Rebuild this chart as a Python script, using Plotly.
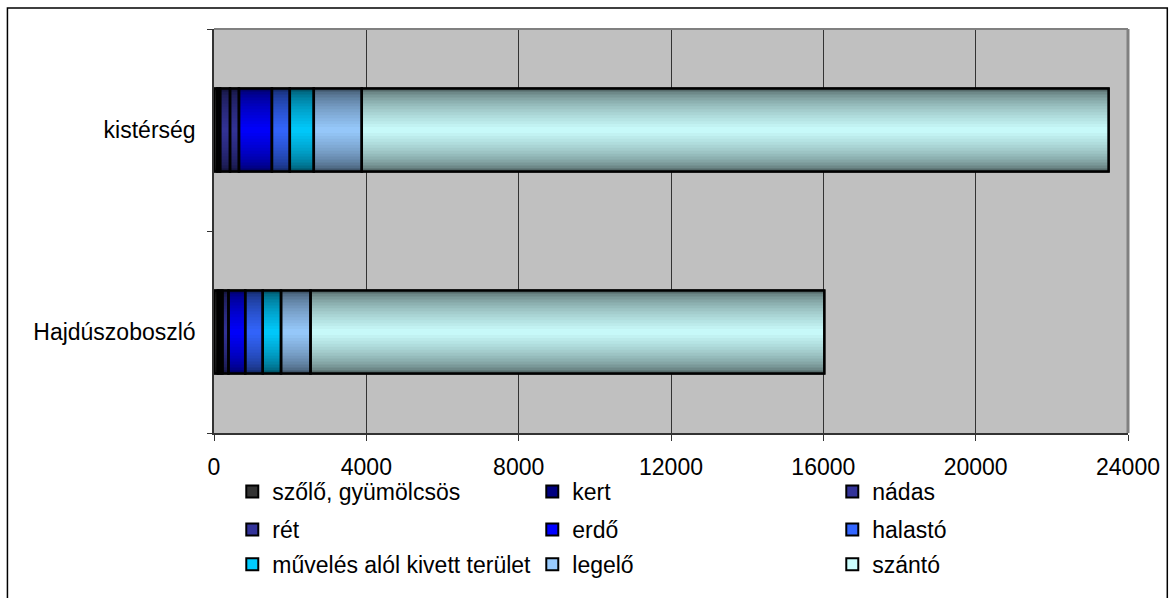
import plotly.graph_objects as go

categories = ["Hajdúszoboszló", "kistérség"]
series_names = ["szőlő, gyümölcsös", "kert", "nádas", "rét", "erdő", "halastó",
                "művelés alól kivett terület", "legelő", "szántó"]
hajduszoboszlo = [100, 70, 50, 160, 440, 460, 480, 775, 13490]
kisterseg = [90, 70, 260, 235, 865, 470, 630, 1260, 19610]
colors = ["#333333", "#000080", "#333399", "#333399", "#0000FF", "#3366FF",
          "#00CCFF", "#99CCFF", "#CCFFFF"]
x_ticks = [0, 4000, 8000, 12000, 16000, 20000, 24000]

FONT = "Liberation Sans, Arial, sans-serif"
FS = 23
BAR_W = 0.41
N_LAYERS = 14
DARK = 0.42
legend_ids = ["legend", "legend2", "legend3"]


def hex_rgb(h):
    h = h.lstrip("#")
    return [int(h[i:i + 2], 16) for i in (0, 2, 4)]


def shade(h, f):
    r, g, b = hex_rgb(h)
    return "rgb(%d,%d,%d)" % (round(r * f), round(g * f), round(b * f))


# cumulative bases for each segment
bases = []
run = [0, 0]
for i in range(len(series_names)):
    bases.append(list(run))
    run = [run[0] + hajduszoboszlo[i], run[1] + kisterseg[i]]

fig = go.Figure()
# legend-bearing base bars
for i, name in enumerate(series_names):
    fig.add_trace(go.Bar(
        y=categories, x=[hajduszoboszlo[i], kisterseg[i]], base=bases[i],
        name=name, orientation="h", width=BAR_W,
        marker=dict(color=colors[i], line=dict(color="black", width=2)),
        legend=legend_ids[i // 3], hoverinfo="skip",
    ))
# gradient layers (dark at edges -> pure colour in the middle)
for i, name in enumerate(series_names):
    for k in range(N_LAYERS):
        frac = 1 - k / N_LAYERS
        t = (1 - frac) ** 0.6 if k > 0 else 0.0
        f = DARK + (1 - DARK) * t
        fig.add_trace(go.Bar(
            y=categories, x=[hajduszoboszlo[i], kisterseg[i]], base=bases[i],
            orientation="h", width=BAR_W * frac,
            marker=dict(color=shade(colors[i], f), line=dict(width=0)),
            showlegend=False, hoverinfo="skip",
        ))
# outlines on top
for i, name in enumerate(series_names):
    fig.add_trace(go.Bar(
        y=categories, x=[hajduszoboszlo[i], kisterseg[i]], base=bases[i],
        orientation="h", width=BAR_W,
        marker=dict(color="rgba(0,0,0,0)", line=dict(color="black", width=2.5)),
        showlegend=False, hoverinfo="skip",
    ))

legend_common = dict(
    orientation="h", x=0.02, xanchor="left", yanchor="bottom",
    entrywidth=255, entrywidthmode="pixels", traceorder="normal",
    font=dict(family=FONT, size=FS, color="black"),
    bgcolor="rgba(0,0,0,0)", itemwidth=30,
    itemclick=False, itemdoubleclick=False,
)

fig.update_layout(
    width=1172, height=598,
    margin=dict(l=214, r=42, t=29, b=165),
    paper_bgcolor="white",
    plot_bgcolor="#C0C0C0",
    barmode="overlay",
    font=dict(family=FONT, size=FS, color="black"),
    legend=dict(legend_common, y=-0.198),
    legend2=dict(legend_common, y=-0.292),
    legend3=dict(legend_common, y=-0.3785),
    xaxis=dict(
        range=[0, 24000], tickvals=x_ticks, ticktext=[str(v) for v in x_ticks],
        showgrid=True, gridcolor="#333333", gridwidth=1,
        showline=True, linecolor="#333333", linewidth=1.5,
        ticks="outside", ticklen=6, tickcolor="#333333",
        ticklabelstandoff=7, zeroline=False,
        tickfont=dict(family=FONT, size=FS),
    ),
    yaxis=dict(
        categoryorder="array", categoryarray=categories,
        showline=True, linecolor="#333333", linewidth=1.5,
        ticks="outside", tickson="boundaries", ticklen=5, tickcolor="#333333",
        ticklabelstandoff=12, showgrid=False,
        tickfont=dict(family=FONT, size=FS),
    ),
    shapes=[
        dict(type="line", xref="paper", yref="paper", x0=0, x1=1, y0=1, y1=1,
             line=dict(color="#808080", width=2), layer="above"),
        dict(type="line", xref="paper", yref="paper", x0=1, x1=1, y0=0, y1=1,
             line=dict(color="#808080", width=3), layer="above"),
        dict(type="rect", xref="paper", yref="paper",
             x0=-0.226, x1=1.043, y0=-0.47, y1=1.052,
             line=dict(color="black", width=1.5), layer="below"),
    ],
)

fig.write_html("out.html", post_script="document.body.style.margin='0';",
               config={"displayModeBar": False})
